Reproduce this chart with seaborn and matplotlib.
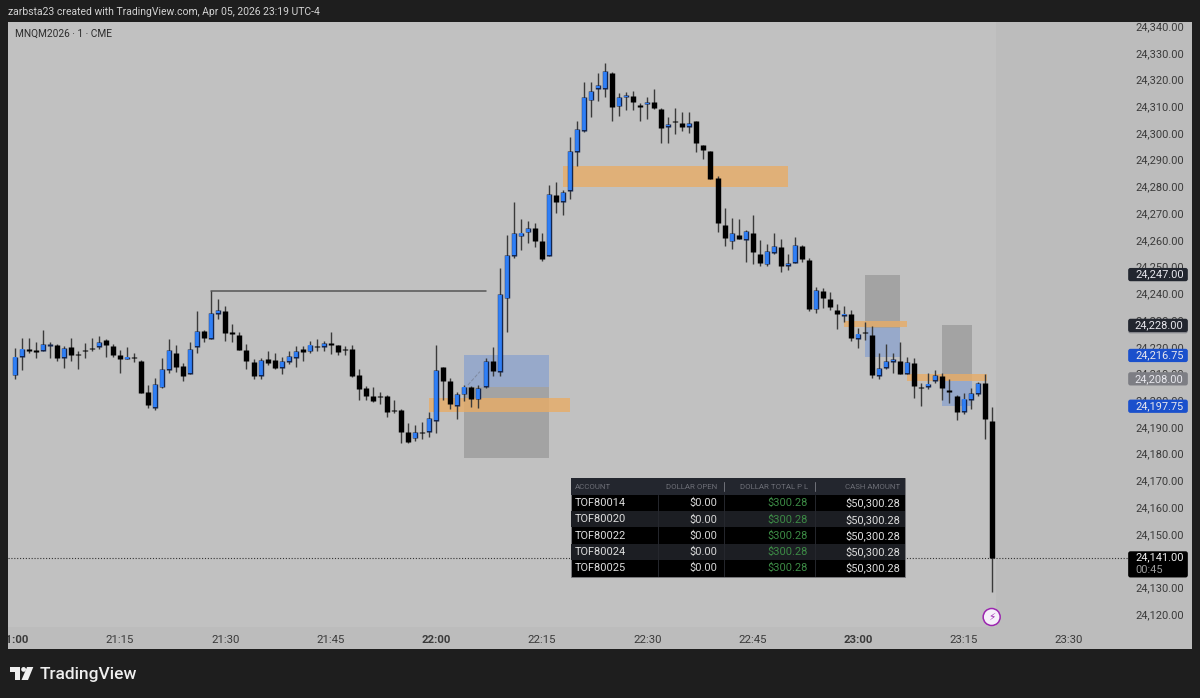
import pandas as pd
import seaborn as sns
import matplotlib.pyplot as plt
from matplotlib.patches import Rectangle, FancyBboxPatch, Polygon, Circle
from matplotlib.transforms import Bbox

# candles, 1 minute each from 21:00, points above 24000
BASE = 24000
opens = [209.3,216.3,219.0,218.8,218.5,220.3,220.6,215.8,219.8,217.3,218.9,219.4,219.9,222.5,220.4,216.8,215.3,216.0,214.8,202.9,
         197.2,204.8,211.3,217.8,212.8,209.7,219.8,225.8,222.8,232.2,233.2,225.4,224.5,218.8,214.3,209.0,215.4,215.0,212.2,214.3,
         215.7,219.3,218.3,220.3,219.9,221.3,220.6,219.3,219.0,209.4,204.6,201.4,201.6,201.4,196.2,196.3,188.0,185.7,188.0,188.1,
         192.3,212.3,207.1,197.8,202.2,204.8,200.3,205.1,214.8,210.7,238.1,253.9,261.3,262.8,264.3,259.5,254.1,276.8,274.3,278.3,
         293.0,300.9,312.2,316.5,316.5,322.3,309.9,313.3,313.7,310.3,310.7,311.4,309.1,302.3,304.6,303.7,302.4,304.6,295.3,293.2,
         283.0,265.5,259.4,261.9,260.0,262.7,254.7,250.8,255.2,257.2,250.3,251.3,257.8,252.5,234.0,240.8,238.0,233.8,231.4,232.3,
         222.8,225.5,224.4,209.1,212.1,214.3,214.7,209.8,213.9,205.1,205.1,207.2,209.2,203.7,201.7,195.7,200.0,202.3,206.6,192.1]
closes = [216.3,219.3,218.5,218.1,221.0,221.1,215.8,219.5,216.9,216.9,218.6,219.1,221.8,220.6,216.9,215.3,216.3,215.7,202.8,198.1,
          205.9,211.5,218.8,212.3,209.0,219.1,225.8,223.3,232.5,233.6,225.0,224.9,218.8,214.5,209.0,215.0,214.0,212.0,214.5,216.5,
          218.4,218.1,220.8,219.9,221.3,220.8,218.0,218.9,209.2,204.2,201.6,199.6,201.3,195.6,196.0,188.1,184.4,188.0,187.7,193.2,
          211.3,207.2,198.6,202.2,205.1,200.3,204.4,214.7,210.9,239.7,254.3,262.4,262.7,264.5,259.7,252.8,277.0,274.3,278.0,293.2,
          301.4,313.4,315.5,317.8,323.0,309.6,313.4,314.2,311.5,309.8,311.4,309.2,301.9,303.4,303.9,302.3,303.7,296.3,293.6,282.7,
          266.2,260.8,262.5,260.4,263.3,255.3,251.3,255.7,257.7,250.3,251.4,257.9,252.8,234.3,241.2,238.3,235.0,232.1,232.4,223.4,
          224.9,225.3,209.6,211.9,214.7,215.3,209.8,214.3,205.2,204.7,206.2,209.3,204.5,203.2,195.6,200.6,202.6,206.5,192.9,141.0]
highs = [219.4,223.4,223.1,221.9,226.3,221.9,221.0,220.3,223.4,218.4,221.3,223.1,224.0,222.8,221.0,218.8,220.0,217.8,215.0,205.7,
         208.2,215.7,222.8,220.6,213.8,221.9,233.4,226.3,240.8,237.9,235.4,228.5,225.4,221.0,215.3,215.7,218.4,217.5,216.3,218.4,
         220.3,220.3,222.3,222.8,222.3,225.4,220.8,220.3,220.6,211.8,205.4,204.8,203.2,201.9,200.1,196.6,191.6,190.7,192.0,195.7,
         220.6,212.4,208.2,203.2,205.7,205.4,205.7,215.7,219.8,249.3,261.8,274.3,267.7,267.2,266.2,262.7,280.5,281.7,278.6,298.3,
         304.6,318.9,318.9,322.6,326.0,322.9,314.8,315.2,315.8,311.3,313.3,316.3,309.2,306.1,309.2,307.7,307.7,304.6,295.5,293.3,
         283.9,272.0,268.3,267.7,263.7,269.3,259.9,258.4,262.4,260.5,254.7,261.2,258.1,253.3,242.2,241.9,240.4,236.0,235.4,233.8,
         227.2,229.4,227.9,217.8,220.9,217.6,221.9,216.3,215.7,206.3,210.1,211.3,210.3,207.8,202.0,202.8,204.5,207.0,209.7,197.6]
lows = [207.9,211.3,217.8,215.9,218.5,215.9,214.8,212.2,214.8,211.7,215.8,218.4,219.3,216.3,216.3,210.0,215.3,214.2,202.8,197.2,
        196.3,204.4,210.3,210.7,207.2,209.7,217.8,221.9,222.8,230.4,222.3,221.9,218.8,211.7,207.9,207.9,213.2,211.8,209.8,213.4,
        212.5,214.7,217.8,218.5,218.3,217.2,216.9,216.9,208.5,200.1,200.1,199.5,198.6,193.6,195.1,183.9,183.9,184.6,185.4,186.1,
        187.8,200.1,196.6,192.8,199.8,197.6,197.2,204.4,209.0,209.0,225.6,253.1,256.2,258.7,257.2,252.1,253.9,269.9,269.3,275.3,
        287.7,300.4,305.8,311.9,313.5,304.6,306.4,308.6,308.6,304.6,305.2,309.1,296.1,296.3,299.6,300.8,300.1,293.0,290.1,282.6,
        262.9,257.8,256.4,260.2,251.7,251.1,250.2,250.4,254.7,248.1,248.9,251.2,251.8,233.4,232.8,234.4,233.8,226.5,229.4,222.0,
        219.7,222.5,208.2,208.1,211.6,210.3,209.7,209.7,200.7,198.0,204.1,206.3,200.1,199.1,192.6,194.9,196.6,201.7,185.4,128.4]

time_ticks = [0, 15, 30, 45, 60, 75, 90, 105, 120, 135, 150]
time_labels = ['21:00', '21:15', '21:30', '21:45', '22:00', '22:15', '22:30', '22:45', '23:00', '23:15', '23:30']
# 24,140 sits fully behind the last price tag so it is left out
price_ticks = [p for p in range(24120, 24341, 10) if p != 24140]

# drawn zones: start minute, end minute, top price, bottom price
orange_zones = [(78, 110, 24287.7, 24279.6), (59, 79, 24200.9, 24195.7), (118, 127, 24229.5, 24227.3), (127, 138.3, 24209.7, 24207.2)]
blue_zones = [(64, 76, 24216.75, 24204.8), (121, 126, 24227, 24216.3), (132, 136.2, 24207.6, 24197.75)]
grey_zones = [(64, 76, 24204.8, 24178.2), (121, 126, 24247, 24227), (132, 136.2, 24228, 24207.6)]

# price axis tags
tags = [(24227.5, '#85868c', ''), (24247, '#22262f', '24,247.00'), (24228, '#22262f', '24,228.00'),
        (24216.75, '#1a50cc', '24,216.75'), (24208, '#7d7e84', '24,208.00'), (24197.75, '#1a50cc', '24,197.75')]

accounts = ['TOF80014', 'TOF80020', 'TOF80022', 'TOF80024', 'TOF80025']
dollar_open = ['$0.00'] * 5
dollar_pl = ['$300.28'] * 5
cash_amount = ['$50,300.28'] * 5
table_heads = ['DOLLAR OPEN', 'DOLLAR TOTAL P L', 'CASH AMOUNT']

sns.set_theme(style='white')
plt.rcParams['font.family'] = ['Roboto', 'DejaVu Sans']

minute = list(range(len(opens)))
df = pd.DataFrame({'minute': minute, 'open': opens, 'close': closes, 'high': highs, 'low': lows})
df[['open', 'close', 'high', 'low']] += BASE
df['top'] = df[['open', 'close']].max(axis=1)
df['bot'] = df[['open', 'close']].min(axis=1)
df['up'] = df['close'] > df['open']

PX_MIN = 7.03
PX_PT = 2.673
def px_x(m):
    return 14.5 + PX_MIN * m
def px_y(p):
    return 26 + (24340 - p) * PX_PT

fig = plt.figure(figsize=(12, 6.98), dpi=100, facecolor='#1e1e1e')

# background in pixel coordinates
bg = fig.add_axes([0, 0, 1, 1], zorder=0)
bg.set_xlim(0, 1200)
bg.set_ylim(698, 0)
bg.axis('off')
bg.add_patch(Rectangle((8, 22), 1184, 627, fc='#bcbcbc', ec='none'))
bg.add_patch(Rectangle((8, 22), 988, 605, fc='#c1c1c1', ec='none'))
bg.text(8, 12, 'zarbsta23 created with TradingView.com, Apr 05, 2026 23:19 UTC-4', color='#d2d2d2', fontsize=7.47, va='center')
bg.text(15, 34, 'MNQM2026 · 1 · CME', color='#2c2c2c', fontsize=7.3, va='center')

# logo
bg.add_patch(Polygon([(9.5, 667), (20, 667), (20, 680), (15, 680), (15, 672), (9.5, 672)], fc='#eeeeee', ec='none'))
bg.add_patch(Circle((23.6, 669.4), 2.4, fc='#eeeeee', ec='none'))
bg.add_patch(Polygon([(27, 667), (33.3, 667), (28, 680), (21.5, 680)], fc='#eeeeee', ec='none'))
bg.text(39.5, 674, 'TradingView', color='#eeeeee', fontsize=12.5, fontweight='medium', va='center')

# chart
ax = fig.add_axes([8 / 1200, 1 - 627 / 698, 1120 / 1200, 606 / 698], zorder=1)
ax.patch.set_alpha(0)
ax.set_xlim((8 - 14.5) / PX_MIN, (1128 - 14.5) / PX_MIN)
ax.set_ylim(24340 - (627 - 26) / PX_PT, 24340 + 5 / PX_PT)
sns.despine(ax=ax, left=True, bottom=True)

for x0, x1, y0, y1 in grey_zones:
    ax.add_patch(Rectangle((x0, y1), x1 - x0, y0 - y1, fc='#777777', alpha=0.4, ec='none', zorder=1))
for x0, x1, y0, y1 in blue_zones:
    ax.add_patch(Rectangle((x0, y1), x1 - x0, y0 - y1, fc='#4f7fdc', alpha=0.36, ec='none', zorder=1))
for x0, x1, y0, y1 in orange_zones:
    ax.add_patch(Rectangle((x0, y1), x1 - x0, y0 - y1, fc='#e8ac66', alpha=0.8, ec='none', zorder=1.2))

ax.plot([28, 67.1], [24240.8, 24240.8], color='#555555', lw=1.1, zorder=1.5)
ax.plot([64.5, 66.2], [24205.7, 24210.7], color='#7f8aa0', lw=0.7, ls='--', zorder=1.5)
ax.axhline(24141, color='#333333', lw=0.8, ls=(0, (1, 1.6)), zorder=1.5)

wicks = pd.concat([df[['minute', 'low']].rename(columns={'low': 'price'}),
                   df[['minute', 'high']].rename(columns={'high': 'price'})])
sns.lineplot(data=wicks, x='minute', y='price', units='minute', estimator=None, color='#3a3a3a',
             lw=1.0, solid_capstyle='butt', legend=False, ax=ax, zorder=2)

bodies = pd.concat([df[['minute', 'up', 'top']].rename(columns={'top': 'price'}),
                    df[['minute', 'up', 'bot']].rename(columns={'bot': 'price'})])
for is_up, col in [(False, '#000000'), (True, '#14264e')]:
    sns.lineplot(data=bodies[bodies.up == is_up], x='minute', y='price', units='minute', estimator=None,
                 color=col, lw=3.9, solid_capstyle='butt', legend=False, ax=ax, zorder=3)

# inner fill of the rising candles, 1 px inside the outline
rising = df[df.up]
inner = pd.concat([pd.DataFrame({'minute': rising.minute, 'price': rising.top - 0.8 / PX_PT}),
                   pd.DataFrame({'minute': rising.minute, 'price': rising.bot + 0.8 / PX_PT})])
sns.lineplot(data=inner, x='minute', y='price', units='minute', estimator=None, color='#2f7ff6',
             lw=2.7, solid_capstyle='butt', legend=False, ax=ax, zorder=4)

ax.set_xlabel('')
ax.set_ylabel('')
ax.yaxis.tick_right()
ax.set_yticks(price_ticks, [f'{p:,.2f}' for p in price_ticks])
ax.set_xticks(time_ticks, time_labels)
ax.tick_params(axis='y', length=0, pad=5.6, labelsize=7.95, labelcolor='#3a3a3a')
ax.tick_params(axis='x', length=0, pad=5.5, labelsize=8.2, labelcolor='#3a3a3a')
clip = Bbox.from_extents(8, 0, 1192, 698)
for lab in ax.get_xticklabels():
    lab.set_clip_box(clip)
    lab.set_clip_on(True)
    if lab.get_text().endswith(':00'):
        lab.set_fontweight('bold')

# overlay, pixels again
top = fig.add_axes([0, 0, 1, 1], zorder=2)
top.set_xlim(0, 1200)
top.set_ylim(698, 0)
top.axis('off')
top.patch.set_alpha(0)

for price, col, txt in tags:
    y = px_y(price)
    top.add_patch(FancyBboxPatch((1129, y - 5.8), 58, 11.6, boxstyle='round,pad=0,rounding_size=1.5', fc=col, ec=col, lw=1.2))
    if txt:
        top.text(1159.3, y, txt, color='#e8e8ee', fontsize=7.95, ha='center', va='center')
y = px_y(24141)
top.add_patch(FancyBboxPatch((1129, y - 5.8), 58, 24.5, boxstyle='round,pad=0,rounding_size=1.5', fc='#000000', ec='#000000', lw=1.2))
top.text(1159.3, y - 0.5, '24,141.00', color='#eeeeee', fontsize=7.95, ha='center', va='center')
top.text(1135.5, y + 12, '00:45', color='#9a9a9a', fontsize=7.95, ha='left', va='center')

# bolt badge
top.add_patch(Circle((px_x(139), 617), 8.5, fc='#f6f0fa', ec='#9c27b0', lw=1.1))
top.text(px_x(139), 617, '⚡', color='#9c27b0', fontsize=7.5, ha='center', va='center', family='DejaVu Sans')

# accounts table
T_X0, T_X1, T_Y0 = 571, 905, 478
top.add_patch(Rectangle((T_X0, T_Y0), T_X1 - T_X0, 99, fc='#000000', ec='#7c7c80', lw=0.6))
top.add_patch(Rectangle((T_X0, T_Y0), T_X1 - T_X0, 17, fc='#23262e', ec='none'))
for i in range(5):
    y0 = T_Y0 + 17 + 16.2 * i
    if i % 2:
        top.add_patch(Rectangle((T_X0, y0), T_X1 - T_X0, 16.2, fc='#1c1e23', ec='none'))
    for sx in (658, 724, 815):
        top.plot([sx, sx], [y0, y0 + 16.2], color='#26282e', lw=0.7)
    yc = y0 + 8.2
    top.text(575, yc, accounts[i], color='#dedede', fontsize=7.9, va='center')
    top.text(717, yc, dollar_open[i], color='#d6d6d6', fontsize=7.9, va='center', ha='right')
    top.text(808, yc, dollar_pl[i], color='#3c8a45', fontsize=7.9, va='center', ha='right')
    top.text(900, yc, cash_amount[i], color='#dedede', fontsize=7.9, va='center', ha='right')
top.plot([723.5, 723.5], [482, 491], color='#70727a', lw=0.7)
top.plot([815, 815], [482, 491], color='#70727a', lw=0.7)
top.text(575, 487, 'ACCOUNT', color='#6c6e76', fontsize=5.7, va='center')
for x, head in zip((717, 808, 900), table_heads):
    top.text(x, 487, head, color='#6c6e76', fontsize=5.7, va='center', ha='right')

fig.savefig('out.png', dpi=100, facecolor=fig.get_facecolor())
